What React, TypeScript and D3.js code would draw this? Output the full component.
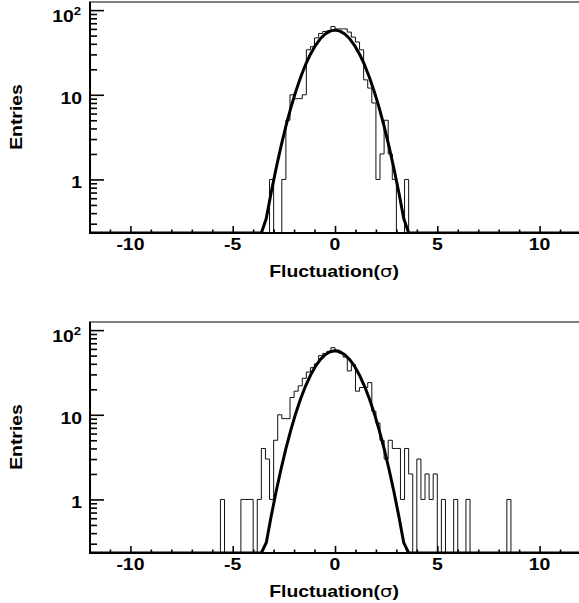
import * as d3 from 'd3'
import { useEffect, useRef } from 'react'

// histogram bins, width 0.2 sigma, low edges + contents
const binWidth = 0.2

const topBinLow = [-3.2, -3.0, -2.8, -2.6, -2.4, -2.2, -2.0, -1.8, -1.6, -1.4, -1.2, -1.0, -0.8, -0.6, -0.4, -0.2,
    0.0, 0.2, 0.4, 0.6, 0.8, 1.0, 1.2, 1.4, 1.6, 1.8, 2.0, 2.2, 2.4, 2.6, 2.8, 3.0, 3.2, 3.4]
const topCounts = [1, 0, 0, 1, 5, 10, 9, 9, 10, 34, 37, 47, 53, 56, 57, 64,
    60, 60, 60, 55, 48, 42, 34, 15, 12, 8, 1, 2, 5, 2, 1, 0, 0, 1]

const bottomBinLow = [-5.6, -5.4, -5.2, -5.0, -4.8, -4.6, -4.4, -4.2, -4.0, -3.8, -3.6, -3.4, -3.2, -3.0, -2.8, -2.6,
    -2.4, -2.2, -2.0, -1.8, -1.6, -1.4, -1.2, -1.0, -0.8, -0.6, -0.4, -0.2, 0.0, 0.2, 0.4, 0.6,
    0.8, 1.0, 1.2, 1.4, 1.6, 1.8, 2.0, 2.2, 2.4, 2.6, 2.8, 3.0, 3.2, 3.4, 3.6, 3.8,
    4.0, 4.2, 4.4, 4.6, 4.8, 5.0, 5.2, 5.4, 5.6, 5.8, 6.0, 6.2, 6.4, 6.6, 6.8, 7.0,
    7.2, 7.4, 7.6, 7.8, 8.0, 8.2, 8.4]
const bottomCounts = [1, 0, 0, 0, 0, 1, 1, 1, 0, 1, 4, 3, 1, 5, 10, 9,
    9, 16, 19, 22, 27, 32, 36, 40, 50, 53, 56, 62, 58, 53, 48, 33,
    39, 19, 21, 21, 24, 11, 8, 5, 3, 5, 4, 4, 1, 4, 2, 0,
    3, 1, 2, 1, 2, 0, 1, 0, 0, 1, 0, 0, 1, 0, 0, 0,
    0, 0, 0, 0, 0, 0, 1]

// gaussian fit: amplitude, mean, sigma
const topFit = [58, 0, 1.05]
const bottomFit = [57, 0, 1.04]

const xTicks = [-10, -5, 0, 5, 10]
const xMinorTicks = [-11, -9, -8, -7, -6, -4, -3, -2, -1, 1, 2, 3, 4, 6, 7, 8, 9, 11]
const yTicks = [1, 10, 100]
const yMinorTicks = [0.3, 0.4, 0.5, 0.6, 0.7, 0.8, 0.9, 2, 3, 4, 5, 6, 7, 8, 9, 20, 30, 40, 50, 60, 70, 80, 90]

const xTitle = 'Fluctuation('
const yTitle = 'Entries'

const FONT = "'Liberation Sans', Arial, sans-serif"
const STRETCH = 1.19

export default function App() {
    const svgRef = useRef(null)

    useEffect(() => {
        drawChart(svgRef.current)
    }, [svgRef])

    return (
        <div>
            <svg ref={svgRef} style={{ position: 'absolute', left: 0, top: 0 }}></svg>
        </div>
    )
}

// wide bold helvetica-ish text, like the original ROOT render
function label(g, x, y, anchor, size, rotate = 0) {
    return g.append('text')
        .attr('transform', 'translate(' + x + ',' + y + ') rotate(' + rotate + ') scale(' + STRETCH + ',1)')
        .attr('text-anchor', anchor)
        .attr('font-family', FONT)
        .attr('font-size', size)
        .attr('font-weight', 'bold')
        .attr('fill', '#000')
}

function drawChart(svgEl) {
    const w = 579
    const h = 603
    const svg = d3.select(svgEl)
        .attr('width', w)
        .attr('height', h)
        .style('background', '#fff')
    svg.selectAll('*').remove()

    const x = d3.scaleLinear().domain([-12, 12]).range([89.5, 580.5])
    const yMin = 0.233
    const y = d3.scaleLog().domain([yMin, 124.7]).range([233, 2])

    const panels = [
        { low: topBinLow, counts: topCounts, fit: topFit },
        { low: bottomBinLow, counts: bottomCounts, fit: bottomFit },
    ]

    panels.forEach((p, i) => {
        const g = svg.append('g').attr('transform', 'translate(0,' + (i * 320) + ')')

        g.append('clipPath').attr('id', 'clip' + i)
            .append('rect')
            .attr('x', x(-12)).attr('y', y.range()[1])
            .attr('width', x(12) - x(-12)).attr('height', y.range()[0] - y.range()[1])

        // histogram outline
        const pts = [[p.low[0], 0]]
        p.low.forEach((lo, k) => pts.push([lo, p.counts[k]]))
        pts.push([p.low[p.low.length - 1] + binWidth, 0])

        const hline = d3.line()
            .x(d => x(d[0]))
            .y(d => y(Math.max(d[1], yMin)))
            .curve(d3.curveStepAfter)

        g.append('path')
            .datum(pts)
            .attr('d', hline)
            .attr('fill', 'none')
            .attr('stroke', '#111')
            .attr('stroke-width', 1)
            .attr('clip-path', 'url(#clip' + i + ')')

        // fit curve, sampled like ROOT's TF1 (100 points)
        const [amp, mean, sigma] = p.fit
        const fx = d3.range(-12, 12.0001, 0.24)
        const fline = d3.line()
            .x(d => x(d))
            .y(d => y(Math.max(amp * Math.exp(-0.5 * ((d - mean) / sigma) ** 2), yMin)))

        g.append('path')
            .datum(fx)
            .attr('d', fline)
            .attr('fill', 'none')
            .attr('stroke', '#000')
            .attr('stroke-width', 3)
            .attr('stroke-linejoin', 'round')
            .attr('clip-path', 'url(#clip' + i + ')')

        // frame
        g.append('rect')
            .attr('x', x(-12)).attr('y', 2)
            .attr('width', x(12) - x(-12)).attr('height', 231)
            .attr('fill', 'none')
            .attr('stroke', '#000')
            .attr('stroke-width', 1)

        // x axis ticks
        g.append('g')
            .attr('transform', 'translate(0,233)')
            .call(d3.axisBottom(x).tickValues(xTicks).tickSize(-7).tickFormat(() => ''))
            .call(a => a.select('.domain').remove())
            .selectAll('line').attr('stroke-width', 1.6)
        g.append('g')
            .attr('transform', 'translate(0,233)')
            .call(d3.axisBottom(x).tickValues(xMinorTicks).tickSize(-3.5).tickFormat(() => ''))
            .call(a => a.select('.domain').remove())
            .selectAll('line').attr('stroke-width', 1.6)

        // y axis ticks
        g.append('g')
            .attr('transform', 'translate(90,0)')
            .call(d3.axisLeft(y).tickValues(yTicks).tickSize(-14).tickFormat(() => ''))
            .call(a => a.select('.domain').remove())
            .selectAll('line').attr('stroke-width', 1.6)
        g.append('g')
            .attr('transform', 'translate(90,0)')
            .call(d3.axisLeft(y).tickValues(yMinorTicks).tickSize(-7).tickFormat(() => ''))
            .call(a => a.select('.domain').remove())
            .selectAll('line').attr('stroke-width', 1.6)

        // axis lines
        g.append('line').attr('x1', 90).attr('x2', 90).attr('y1', 2).attr('y2', 234)
            .attr('stroke', '#000').attr('stroke-width', 2)
        g.append('line').attr('x1', 89).attr('x2', w).attr('y1', 233).attr('y2', 233)
            .attr('stroke', '#000').attr('stroke-width', 2.2)

        // x labels
        xTicks.forEach(t => {
            label(g, x(t), 250, 'middle', 16.3).text(String(t))
        })

        // y labels
        label(g, 82, y(1) + 8.5, 'end', 16.3).text('1')
        label(g, 82, y(10) + 9.5, 'end', 16.3).text('10')
        const t100 = label(g, 81, y(100) + 11.5, 'end', 16.3)
        t100.append('tspan').text('10')
        t100.append('tspan').attr('dy', -7).attr('font-size', 11).text('2')

        // titles
        const xt = label(g, 334, 277, 'middle', 16.3)
        xt.append('tspan').text(xTitle)
        xt.append('tspan').attr('font-weight', 'normal').attr('font-family', "'DejaVu Sans', sans-serif").text('\u03c3')
        xt.append('tspan').text(')')

        label(g, 22, 117, 'middle', 16.3, -90).text(yTitle)
    })
}
